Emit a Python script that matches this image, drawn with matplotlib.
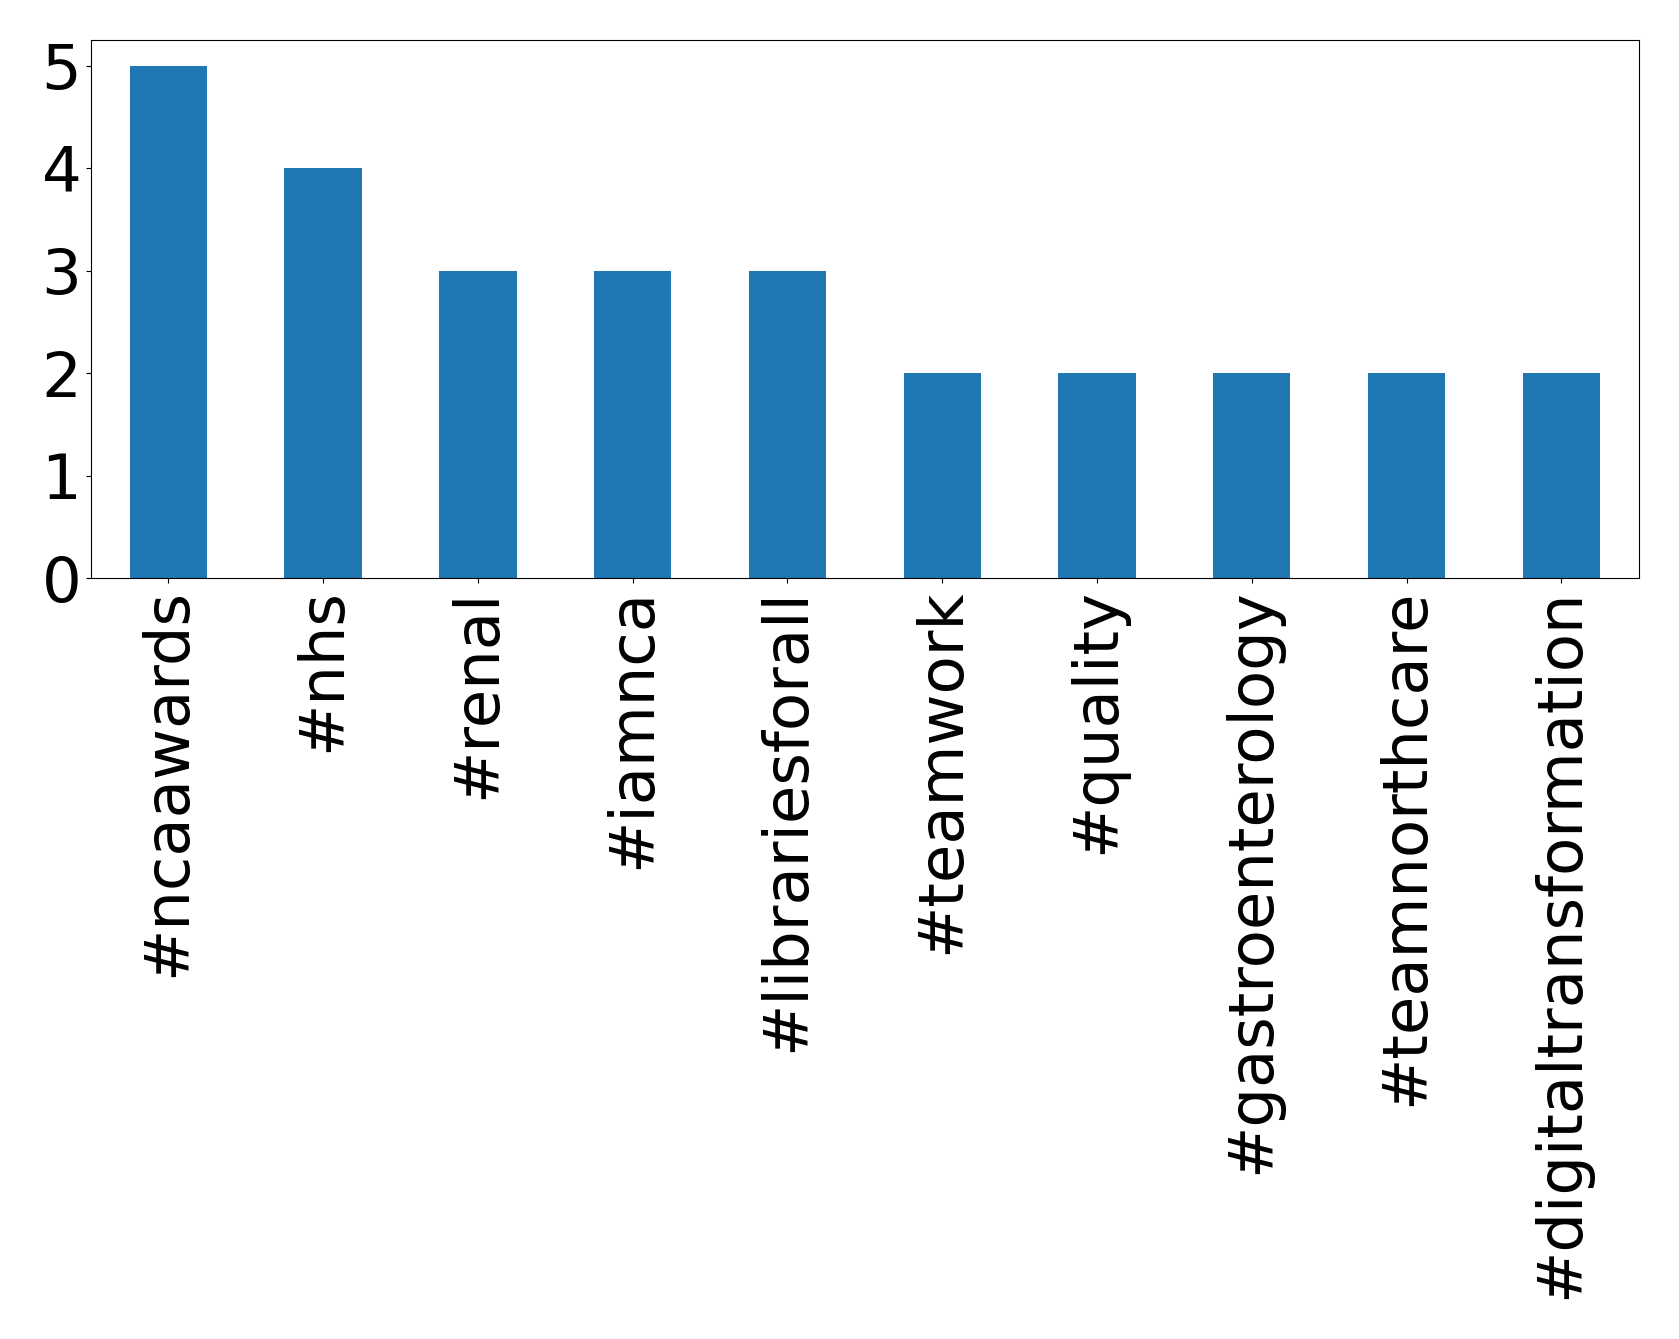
import matplotlib
matplotlib.use("Agg")
import matplotlib.pyplot as plt

hashtags = ["#ncaawards", "#nhs", "#renal", "#iamnca", "#librariesforall",
            "#teamwork", "#quality", "#gastroenterology", "#teamnorthcare",
            "#digitaltransformation"]
counts = [5, 4, 3, 3, 3, 2, 2, 2, 2, 2]

fig = plt.figure(figsize=(16.79, 13.39), dpi=100)
ax = fig.add_axes([0.0542, 0.568, 0.9218, 0.402])
x = list(range(len(hashtags)))
ax.bar(x, counts, width=0.5, color="#1f77b4")
ax.set_xlim(-0.5, len(hashtags) - 0.5)
ax.set_ylim(0, 5.25)
ax.set_xticks(x)
ax.set_xticklabels(hashtags, rotation=90, fontsize=45)
ax.set_yticks([0, 1, 2, 3, 4, 5])
ax.tick_params(axis="y", labelsize=45)
fig.savefig("out.png", dpi=100)
